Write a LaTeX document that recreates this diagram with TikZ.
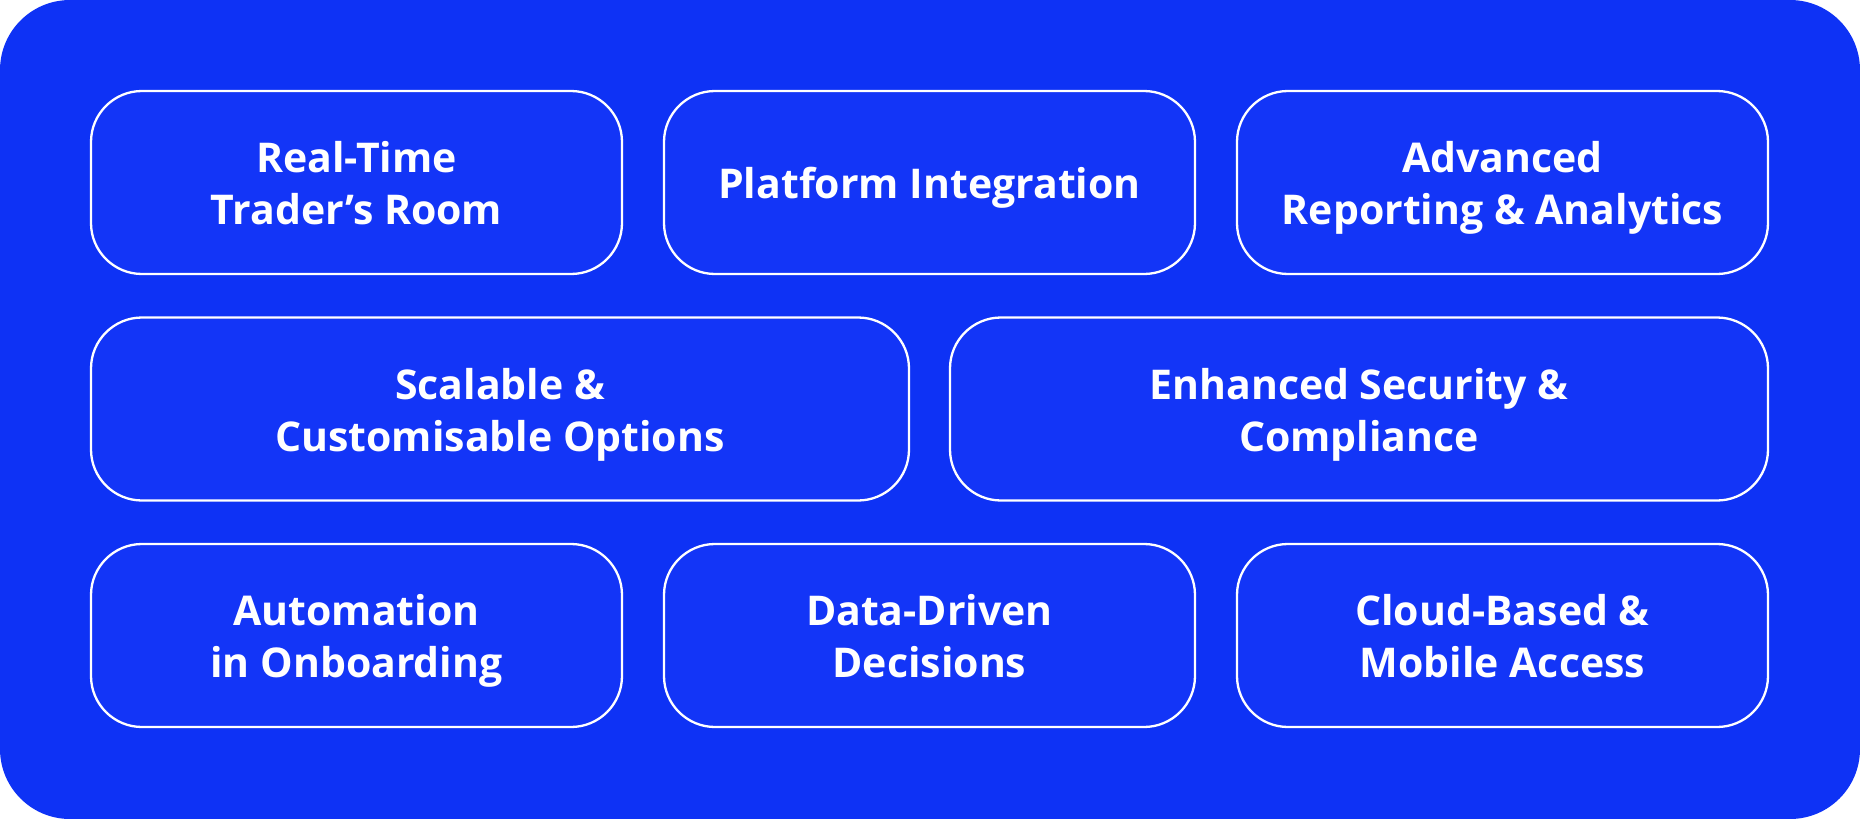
\documentclass[tikz,border=0pt]{standalone}
\usepackage{fontspec}
\setmainfont{Open Sans}
\usepackage{xcolor}
\usetikzlibrary{positioning}
\definecolor{panelblue}{RGB}{14,50,245}
\definecolor{tileblue}{RGB}{19,53,247}
\tikzset{
    feature/.style={rectangle, rounded corners=25.5pt, minimum width=265.5pt, minimum height=91.5pt, outer sep=0pt, draw=white, line width=1.15pt, fill=tileblue, text=white, align=center, font=\fontsize{20.5}{26}\selectfont\bfseries, execute at begin node={\rule{0pt}{#1}}, execute at end node={\rule[-5pt]{0pt}{5pt}}},
    feature/.default=47pt,
    widefeature/.style={feature, minimum width=409pt}
}

\begin{document}
\begin{tikzpicture}[x=1pt, y=1pt, node distance=21pt and 21.75pt]
    % Panel
    \fill[panelblue, rounded corners=35pt] (0,0) rectangle (930,-409.5);
    \useasboundingbox (0,0) rectangle (930,-409.5);

    % Top row
    \node [feature] (trader) at (178.25,-91.25) {Real-Time \\ Trader’s Room};
    \node [feature=21pt, right=21pt of trader] (platform) {Platform Integration};
    \node [feature, right=21pt of platform] (reporting) {Advanced \\ Reporting \& Analytics};

    % Middle row
    \node [widefeature, below right=21.75pt and 0pt of trader.south west] (scalable) {Scalable \& \\ Customisable Options};
    \node [widefeature, below left=21.75pt and 0pt of reporting.south east] (security) {Enhanced Security \& \\ Compliance};

    % Bottom row
    \node [feature, below right=21.75pt and 0pt of scalable.south west] (onboarding) {Automation \\ in Onboarding};
    \node [feature, right=21pt of onboarding] (decisions) {Data-Driven \\ Decisions};
    \node [feature, right=21pt of decisions] (cloud) {Cloud-Based \& \\ Mobile Access};
\end{tikzpicture}
\end{document}
